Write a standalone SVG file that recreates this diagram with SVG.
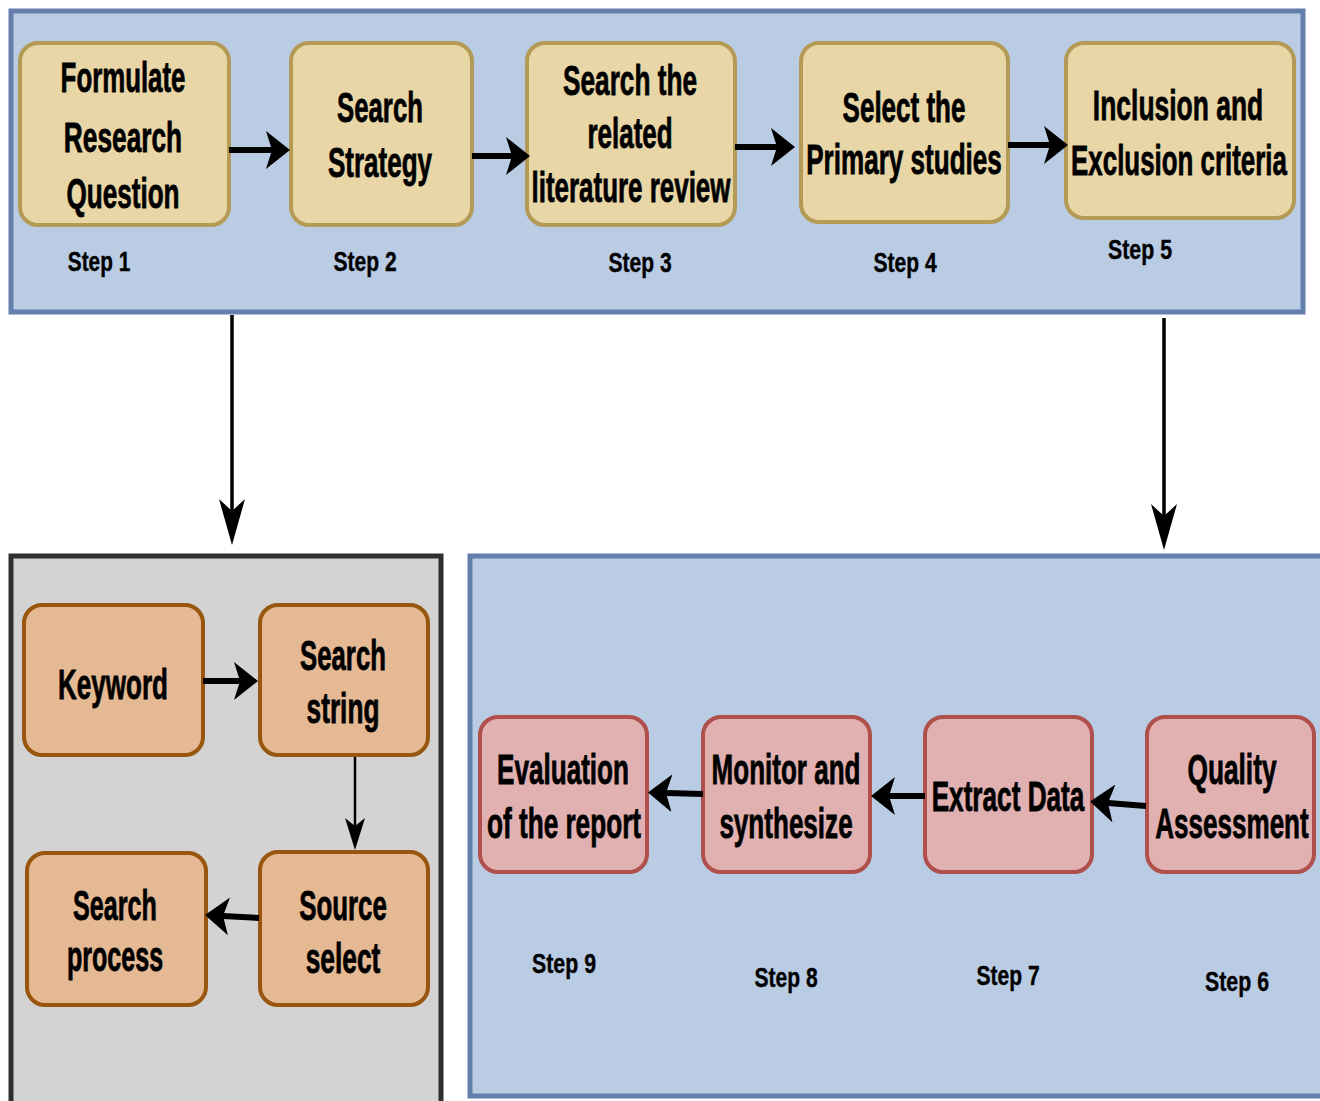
<svg xmlns="http://www.w3.org/2000/svg" width="1320" height="1101" viewBox="0 0 1320 1101">
  <style>
    .panel-blue { fill: #b9cce4; stroke: #647fab; stroke-width: 5; }
    .panel-gray { fill: #d3d3d3; stroke: #2f2f2f; stroke-width: 5; }
    .tan { fill: #e9d6a7; stroke: #b39b56; stroke-width: 4; }
    .peach { fill: #e5b993; stroke: #98560f; stroke-width: 4; }
    .pink { fill: #e0b1b0; stroke: #b0504c; stroke-width: 4; }
    text { font-family: "Liberation Sans", Arial, sans-serif; font-weight: bold; fill: #000; text-anchor: middle; }
    .lbl { font-size: 42px; stroke: #000; stroke-width: 0.8; }
    .step { font-size: 27px; stroke: #000; stroke-width: 0.4; }
    .conn { fill: none; stroke: #000; }
    .thick { stroke-width: 6; marker-end: url(#ah); }
    .mid { stroke-width: 3.5; marker-end: url(#ahv); }
    .thin { stroke-width: 2.5; marker-end: url(#ahs); }
  </style>
  <defs>
    <marker id="ah" markerUnits="userSpaceOnUse" markerWidth="26" markerHeight="40" refX="6" refY="19" orient="auto">
      <path d="M0,0 L24,19 L0,38 L6,19 Z" fill="#000"/>
    </marker>
    <marker id="ahv" markerUnits="userSpaceOnUse" markerWidth="48" markerHeight="28" refX="12" refY="13" orient="auto">
      <path d="M0,0 L46,13 L0,26 L12,13 Z" fill="#000"/>
    </marker>
    <marker id="ahs" markerUnits="userSpaceOnUse" markerWidth="34" markerHeight="22" refX="8" refY="10" orient="auto">
      <path d="M0,0 L32,10 L0,20 L8,10 Z" fill="#000"/>
    </marker>
  </defs>

  <rect width="1320" height="1101" fill="#fff"/>

  <!-- containers -->
  <g id="panel-top"><rect class="panel-blue" x="11" y="11" width="1292" height="301"/></g>
  <g id="panel-search"><rect class="panel-gray" x="11" y="556" width="430" height="560"/></g>
  <g id="panel-analysis"><rect class="panel-blue" x="470" y="556" width="870" height="540"/></g>

  <!-- top row: steps 1-5 (labels are horizontally condensed) -->
  <g id="step1">
    <rect class="tan" x="20" y="43" width="209" height="182" rx="18"/>
    <text class="lbl" transform="translate(123,92) scale(0.65,1)" textLength="192" lengthAdjust="spacingAndGlyphs">Formulate</text>
    <text class="lbl" transform="translate(123,152) scale(0.65,1)" textLength="182" lengthAdjust="spacingAndGlyphs">Research</text>
    <text class="lbl" transform="translate(123,208) scale(0.65,1)" textLength="174" lengthAdjust="spacingAndGlyphs">Question</text>
    <text class="step" transform="translate(99,271) scale(0.8,1)" textLength="78" lengthAdjust="spacingAndGlyphs">Step 1</text>
  </g>
  <g id="step2">
    <rect class="tan" x="291" y="43" width="181" height="182" rx="18"/>
    <text class="lbl" transform="translate(380,122) scale(0.65,1)" textLength="132" lengthAdjust="spacingAndGlyphs">Search</text>
    <text class="lbl" transform="translate(380,177) scale(0.65,1)" textLength="160" lengthAdjust="spacingAndGlyphs">Strategy</text>
    <text class="step" transform="translate(365,271) scale(0.8,1)" textLength="79" lengthAdjust="spacingAndGlyphs">Step 2</text>
  </g>
  <g id="step3">
    <rect class="tan" x="527" y="43" width="208" height="182" rx="18"/>
    <text class="lbl" transform="translate(630,95) scale(0.65,1)" textLength="206" lengthAdjust="spacingAndGlyphs">Search the</text>
    <text class="lbl" transform="translate(630,148) scale(0.65,1)" textLength="131" lengthAdjust="spacingAndGlyphs">related</text>
    <text class="lbl" transform="translate(631,202) scale(0.65,1)" textLength="306" lengthAdjust="spacingAndGlyphs">literature review</text>
    <text class="step" transform="translate(640,272) scale(0.8,1)" textLength="79" lengthAdjust="spacingAndGlyphs">Step 3</text>
  </g>
  <g id="step4">
    <rect class="tan" x="801" y="43" width="207" height="179" rx="18"/>
    <text class="lbl" transform="translate(904,122) scale(0.65,1)" textLength="189" lengthAdjust="spacingAndGlyphs">Select the</text>
    <text class="lbl" transform="translate(904,174) scale(0.65,1)" textLength="301" lengthAdjust="spacingAndGlyphs">Primary studies</text>
    <text class="step" transform="translate(905,272) scale(0.8,1)" textLength="79" lengthAdjust="spacingAndGlyphs">Step 4</text>
  </g>
  <g id="step5">
    <rect class="tan" x="1066" y="43" width="228" height="175" rx="18"/>
    <text class="lbl" transform="translate(1178,120) scale(0.65,1)" textLength="262" lengthAdjust="spacingAndGlyphs">Inclusion and</text>
    <text class="lbl" transform="translate(1179,175) scale(0.65,1)" textLength="332" lengthAdjust="spacingAndGlyphs">Exclusion criteria</text>
    <text class="step" transform="translate(1140,259) scale(0.8,1)" textLength="80" lengthAdjust="spacingAndGlyphs">Step 5</text>
  </g>

  <!-- search sub-process -->
  <g id="keyword">
    <rect class="peach" x="24" y="605" width="179" height="150" rx="18"/>
    <text class="lbl" transform="translate(113,699) scale(0.65,1)" textLength="169" lengthAdjust="spacingAndGlyphs">Keyword</text>
  </g>
  <g id="search-string">
    <rect class="peach" x="260" y="605" width="168" height="150" rx="18"/>
    <text class="lbl" transform="translate(343,670) scale(0.65,1)" textLength="132" lengthAdjust="spacingAndGlyphs">Search</text>
    <text class="lbl" transform="translate(343,723) scale(0.65,1)" textLength="112" lengthAdjust="spacingAndGlyphs">string</text>
  </g>
  <g id="source-select">
    <rect class="peach" x="260" y="852" width="168" height="153" rx="18"/>
    <text class="lbl" transform="translate(343,920) scale(0.65,1)" textLength="135" lengthAdjust="spacingAndGlyphs">Source</text>
    <text class="lbl" transform="translate(343,973) scale(0.65,1)" textLength="115" lengthAdjust="spacingAndGlyphs">select</text>
  </g>
  <g id="search-process">
    <rect class="peach" x="27" y="853" width="179" height="152" rx="18"/>
    <text class="lbl" transform="translate(115,920) scale(0.65,1)" textLength="129" lengthAdjust="spacingAndGlyphs">Search</text>
    <text class="lbl" transform="translate(115,971) scale(0.65,1)" textLength="148" lengthAdjust="spacingAndGlyphs">process</text>
  </g>

  <!-- bottom row: steps 6-9 -->
  <g id="step9">
    <rect class="pink" x="480" y="717" width="167" height="155" rx="18"/>
    <text class="lbl" transform="translate(563,784) scale(0.65,1)" textLength="203" lengthAdjust="spacingAndGlyphs">Evaluation</text>
    <text class="lbl" transform="translate(564,838) scale(0.65,1)" textLength="237" lengthAdjust="spacingAndGlyphs">of the report</text>
    <text class="step" transform="translate(564,973) scale(0.8,1)" textLength="80" lengthAdjust="spacingAndGlyphs">Step 9</text>
  </g>
  <g id="step8">
    <rect class="pink" x="703" y="717" width="167" height="155" rx="18"/>
    <text class="lbl" transform="translate(786,784) scale(0.65,1)" textLength="229" lengthAdjust="spacingAndGlyphs">Monitor and</text>
    <text class="lbl" transform="translate(786,838) scale(0.65,1)" textLength="205" lengthAdjust="spacingAndGlyphs">synthesize</text>
    <text class="step" transform="translate(786,987) scale(0.8,1)" textLength="79" lengthAdjust="spacingAndGlyphs">Step 8</text>
  </g>
  <g id="step7">
    <rect class="pink" x="925" y="717" width="167" height="155" rx="18"/>
    <text class="lbl" transform="translate(1008,811) scale(0.65,1)" textLength="235" lengthAdjust="spacingAndGlyphs">Extract Data</text>
    <text class="step" transform="translate(1008,985) scale(0.8,1)" textLength="79" lengthAdjust="spacingAndGlyphs">Step 7</text>
  </g>
  <g id="step6">
    <rect class="pink" x="1147" y="717" width="167" height="155" rx="18"/>
    <text class="lbl" transform="translate(1232,784) scale(0.65,1)" textLength="137" lengthAdjust="spacingAndGlyphs">Quality</text>
    <text class="lbl" transform="translate(1232,838) scale(0.65,1)" textLength="236" lengthAdjust="spacingAndGlyphs">Assessment</text>
    <text class="step" transform="translate(1237,991) scale(0.8,1)" textLength="80" lengthAdjust="spacingAndGlyphs">Step 6</text>
  </g>

  <!-- connectors -->
  <g id="connectors">
    <path class="conn thick" d="M229,150 L272,150"/>
    <path class="conn thick" d="M472,156 L512,156"/>
    <path class="conn thick" d="M735,147 L777,147"/>
    <path class="conn thick" d="M1008,145 L1050,145"/>
    <path class="conn mid" d="M232,315 L232,511"/>
    <path class="conn mid" d="M1164,318 L1164,516"/>
    <path class="conn thick" d="M203,681 L240,681"/>
    <path class="conn thin" d="M355,757 L355,826"/>
    <path class="conn thick" d="M259,918 L223,916"/>
    <path class="conn thick" d="M1146,806 L1108,803"/>
    <path class="conn thick" d="M925,796 L889,796"/>
    <path class="conn thick" d="M703,794 L666,793"/>
  </g>
</svg>
